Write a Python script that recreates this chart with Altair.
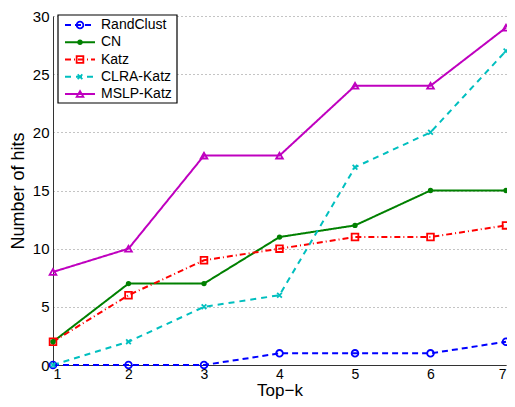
import altair as alt
import pandas as pd

topk = [1, 2, 3, 4, 5, 6, 7]
series_names = ["RandClust", "CN", "Katz", "CLRA-Katz", "MSLP-Katz"]
rand_clust = [0, 0, 0, 1, 1, 1, 2]
cn = [2, 7, 7, 11, 12, 15, 15]
katz = [2, 6, 9, 10, 11, 11, 12]
clra_katz = [0, 2, 5, 6, 17, 20, 27]
mslp_katz = [8, 10, 18, 18, 24, 24, 29]

colors = ["#0000ff", "#008000", "#ff0000", "#00bfbf", "#bf00bf"]
dashes = [[6, 4], [1, 0], [6, 3, 1, 3], [6, 5], [1, 0]]
xshape = "M-0.7,-0.7L0.7,0.7M-0.7,0.7L0.7,-0.7"
shapes = ["circle", "circle", "square", xshape, "triangle-up"]

values = [rand_clust, cn, katz, clra_katz, mslp_katz]
rows = []
for name, vals in zip(series_names, values):
    for k, v in zip(topk, vals):
        rows.append({"k": k, "hits": v, "series": name})
df = pd.DataFrame(rows)
leg = pd.DataFrame({"series": series_names, "idx": list(range(len(series_names)))})

color_sc = alt.Scale(domain=series_names, range=colors)
dash_sc = alt.Scale(domain=series_names, range=dashes)
shape_sc = alt.Scale(domain=series_names, range=shapes)

x_enc = alt.X("k:Q", scale=alt.Scale(domain=[1, 7], nice=False),
              axis=alt.Axis(values=topk, title="Top\u2212k", grid=False, format="d",
                            tickSize=0, labelPadding=2, labelFontSize=14, titleFontSize=17,
                            titleBaseline="bottom", titleY=34))
y_enc = alt.Y("hits:Q", scale=alt.Scale(domain=[0, 30], nice=False),
              axis=alt.Axis(values=[0, 5, 10, 15, 20, 25, 30], title="Number of hits",
                            grid=True, gridDash=[1, 3], gridColor="#888888", gridWidth=1,
                            tickSize=0, labelPadding=4, titlePadding=5))

base = alt.Chart(df)
lines = base.mark_line(strokeWidth=2).encode(
    x=x_enc, y=y_enc,
    color=alt.Color("series:N", scale=color_sc, legend=None),
    strokeDash=alt.StrokeDash("series:N", scale=dash_sc, legend=None),
    detail="series:N",
)
open_pts = base.transform_filter(alt.datum.series != "CN").mark_point(
    filled=False, strokeWidth=1.8, size=45, opacity=1
).encode(
    x="k:Q", y="hits:Q",
    color=alt.Color("series:N", scale=color_sc, legend=None),
    shape=alt.Shape("series:N", scale=shape_sc, legend=None),
)
cn_pts = base.transform_filter(alt.datum.series == "CN").mark_point(
    filled=True, size=28, opacity=1, shape="circle"
).encode(
    x="k:Q", y="hits:Q",
    color=alt.Color("series:N", scale=color_sc, legend=None),
)
data_layer = alt.layer(lines, open_pts, cn_pts)

lbase = alt.Chart(leg)
ly = alt.Y("idx:Q", scale=alt.Scale(domain=[0, 4], range=[9, 78]), axis=None)
box = alt.Chart(pd.DataFrame({"a": [0]})).mark_rect(
    fill="white", stroke="black", strokeWidth=1.2
).encode(x=alt.value(5), x2=alt.value(124), y=alt.value(-1), y2=alt.value(87))
lrules = lbase.mark_rule(strokeWidth=2).encode(
    x=alt.value(12), x2=alt.value(42), y=ly,
    color=alt.Color("series:N", scale=color_sc, legend=None),
    strokeDash=alt.StrokeDash("series:N", scale=dash_sc, legend=None),
)
lpts = lbase.transform_filter(alt.datum.series != "CN").mark_point(
    filled=False, strokeWidth=1.8, size=45, opacity=1
).encode(
    x=alt.value(27), y=ly,
    color=alt.Color("series:N", scale=color_sc, legend=None),
    shape=alt.Shape("series:N", scale=shape_sc, legend=None),
)
lcn = lbase.transform_filter(alt.datum.series == "CN").mark_point(
    filled=True, size=28, opacity=1, shape="circle"
).encode(
    x=alt.value(27), y=ly,
    color=alt.Color("series:N", scale=color_sc, legend=None),
)
ltext = lbase.mark_text(align="left", baseline="middle", fontSize=14,
                        font="Liberation Sans", color="black").encode(
    x=alt.value(48), y=ly, text="series:N")
legend_layer = alt.layer(box, lrules, lpts, lcn, ltext)

chart = alt.layer(data_layer, legend_layer).resolve_scale(y="independent").properties(
    width=453, height=349,
    padding={"left": 45, "top": 8, "right": 1, "bottom": 34},
    autosize=alt.AutoSizeParams(type="none"),
).configure_view(stroke=None).configure_axis(
    labelFont="Liberation Sans", titleFont="Liberation Sans",
    labelFontSize=15, titleFontSize=18, titleFontWeight="normal",
    labelColor="black", titleColor="black", domainColor="#333333",
    domainWidth=1,
)

chart.save("out.html", embed_options={"renderer": "svg", "actions": False})
